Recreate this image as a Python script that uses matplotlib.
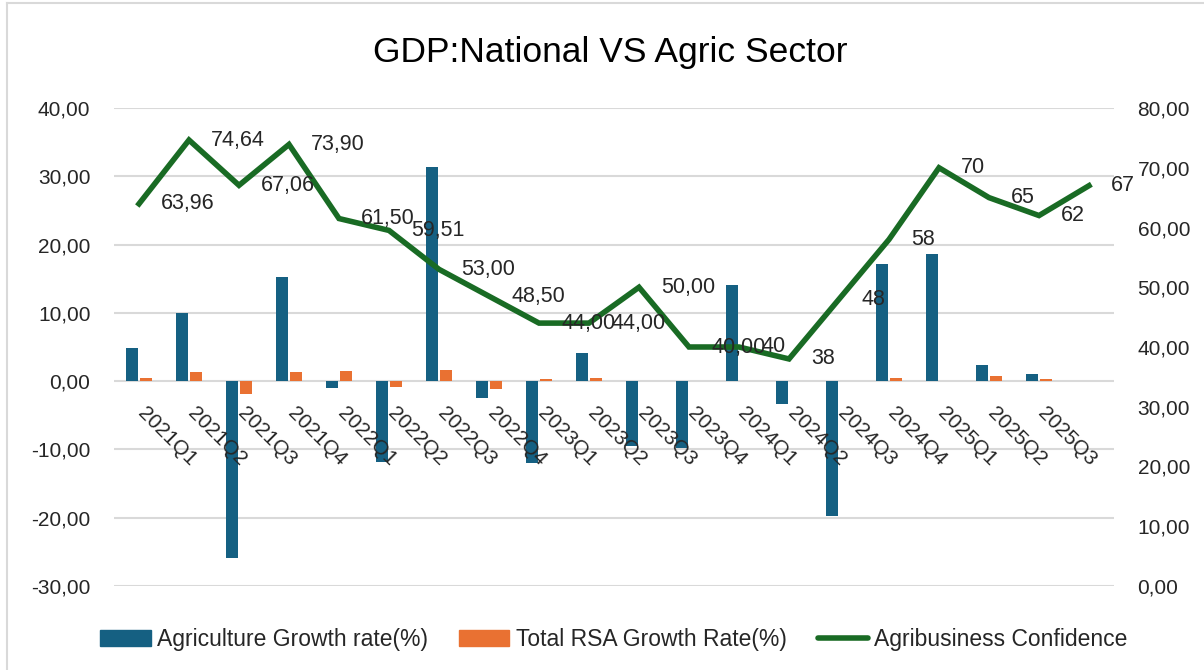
import numpy as np
import matplotlib
matplotlib.use("Agg")
import matplotlib.pyplot as plt
from matplotlib.ticker import FuncFormatter, MultipleLocator
from matplotlib.lines import Line2D
from matplotlib.patches import Patch

plt.rcParams['font.family'] = ['Liberation Sans', 'DejaVu Sans']

# x labels (19) - the chart has one more data point than labels
quarters = ['2021Q1', '2021Q2', '2021Q3', '2021Q4', '2022Q1', '2022Q2', '2022Q3',
            '2022Q4', '2023Q1', '2023Q2', '2023Q3', '2023Q4', '2024Q1', '2024Q2',
            '2024Q3', '2024Q4', '2025Q1', '2025Q2', '2025Q3']

agri_growth = [4.9, 10.0, -25.9, 15.2, -1.0, -11.8, 31.4, -2.4, -12.0, 4.1,
               -9.5, -9.8, 14.1, -3.3, -19.7, 17.1, 18.6, 2.4, 1.1, np.nan]
rsa_growth = [0.5, 1.3, -1.9, 1.3, 1.5, -0.9, 1.7, -1.2, 0.3, 0.5,
              0.0, 0.0, 0.0, 0.0, 0.0, 0.5, 0.0, 0.8, 0.35, np.nan]
confidence = [63.96, 74.64, 67.06, 73.90, 61.50, 59.51, 53.00, 48.50, 44.00, 44.00,
              50.00, 40.00, 40, 38, 48, 58, 70, 65, 62, 67]
conf_labels = ['63,96', '74,64', '67,06', '73,90', '61,50', '59,51', '53,00', '48,50',
               '44,00', '44,00', '50,00', '40,00', '40', '38', '48', '58', '70', '65',
               '62', '67']

BLUE = '#156082'
ORANGE = '#E97132'
GREEN = '#196B24'
GRID = '#D9D9D9'

def comma(v, pos):
    return f"{v:.2f}".replace('.', ',')

fig = plt.figure(figsize=(12.04, 6.70), dpi=100)
ax = fig.add_axes([114/1204, 1-586/670, 1000/1204, 478/670])
ax2 = ax.twinx()

x = np.arange(len(confidence))
w = 0.24
ax.bar(x - 0.14, agri_growth, width=w, color=BLUE, zorder=2)
ax.bar(x + 0.14, rsa_growth, width=w, color=ORANGE, zorder=2)

ax.set_xlim(-0.5, len(confidence) - 0.5)
ax.set_ylim(-30, 40)
ax.yaxis.set_major_locator(MultipleLocator(10))
ax.yaxis.set_major_formatter(FuncFormatter(comma))
ax.grid(axis='y', color=GRID, linewidth=1.5, zorder=0)
ax.set_axisbelow(True)
ax.set_xticks([])
ax.tick_params(axis='y', length=0, pad=17, labelsize=15, labelcolor='#262626')
for s in ax.spines.values():
    s.set_visible(False)

# category labels sit next to the zero line
for i, q in enumerate(quarters):
    ax.annotate(q, xy=(i, 0), xytext=(6, -16.5), textcoords='offset points',
                rotation=-45, rotation_mode='anchor', ha='left', va='top',
                fontsize=15, color='#262626', zorder=5)

ax2.plot(x, confidence, color=GREEN, linewidth=4, solid_joinstyle='miter', zorder=3)
ax2.set_ylim(0, 80)
ax2.yaxis.set_major_locator(MultipleLocator(10))
ax2.yaxis.set_major_formatter(FuncFormatter(comma))
ax2.tick_params(axis='y', length=0, pad=17, labelsize=15, labelcolor='#262626')
for s in ax2.spines.values():
    s.set_visible(False)

for xi, v, lab in zip(x, confidence, conf_labels):
    ax2.annotate(lab, xy=(xi, v), xytext=(16, 0), textcoords='offset points',
                 ha='left', va='center', fontsize=15.5, color='#262626')

fig.text(0.507, 0.922, 'GDP:National VS Agric Sector', ha='center', va='center',
         fontsize=25.5, color='#000000')

handles = [Patch(color=BLUE), Patch(color=ORANGE),
           Line2D([0], [0], color=GREEN, linewidth=4, solid_capstyle='round')]
names = ['Agriculture Growth rate(%)', 'Total RSA Growth Rate(%)', 'Agribusiness Confidence']
fig.legend(handles, names, loc='center', bbox_to_anchor=(0.51, 0.046), ncol=3,
           frameon=False, fontsize=16.5, handlelength=2.2, handletextpad=0.28,
           columnspacing=1.35, labelcolor='#262626')

# chart frame edge
fig.add_artist(Line2D([7/1204, 7/1204], [0, 1-3/670], transform=fig.transFigure,
                      color=GRID, linewidth=1.5))
fig.add_artist(Line2D([7/1204, 1], [1-3/670, 1-3/670], transform=fig.transFigure,
                      color=GRID, linewidth=1.5))

fig.savefig('out.png', dpi=100)
